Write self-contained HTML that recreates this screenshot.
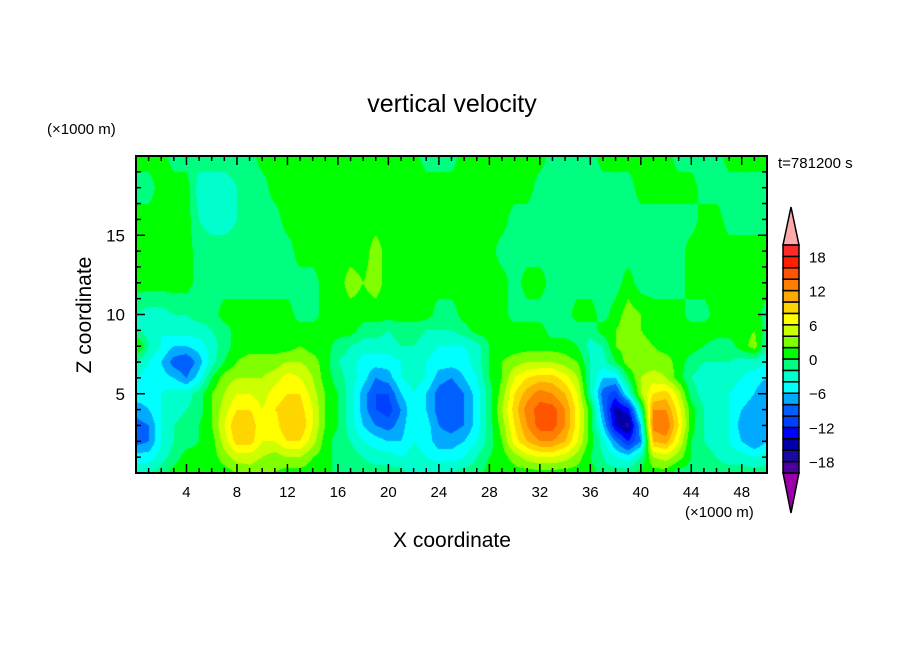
<!DOCTYPE html>
<html><head><meta charset="utf-8">
<style>
body{margin:0;background:#fff;width:904px;height:654px;overflow:hidden;font-family:"Liberation Sans",sans-serif;}
svg text{font-family:"Liberation Sans",sans-serif;fill:#000}
#wrap{position:relative;width:904px;height:654px}
canvas{position:absolute;left:136px;top:156px}
svg{position:absolute;left:0;top:0}
</style></head>
<body>
<div id="wrap">
<canvas id="cv" width="631" height="317"></canvas>
<svg id="sv" width="904" height="654"></svg>
</div>
<script>
const xGrid=[0,1,2,3,4,5,6,7,8,9,10,11,12,13,14,15,16,17,18,19,20,21,22,23,24,25,26,27,28,29,30,31,32,33,34,35,36,37,38,39,40,41,42,43,44,45,46,47,48,49,50];
const zGrid=[0,1,2,3,4,5,6,7,8,9,10,12,14,16,18,20];
const w_z0=[-3,-2,-1,1,1,1,1,1,2,3,2,2,1,1,1,1,-1,-1,-1,-1,-1,-1,-3,-2,-2,-2,-1,-1,1,1,1,1,1,1,1,1,1,-1,-1,-1,1,1,1,-1,-1,-1,-1,-1,-1,-1,-1];
const w_z1=[-5,-5,-3,-1,1,1,1,3,5,5,4,3,4,4,2,1,-1,-1,-2,-3,-3,-4,-3,-4,-5,-5,-4,-2,0,1,3,5,6,6,5,3,0,-2,-4,-5,-2,4,5,3,0,-1,-2,-3,-3,-4,-3];
const w_z2=[-9,-8,-4,-2,-1,0,1,5,9,9,6,6,8,8,5,1,-1,-2,-4,-5,-6,-6,-4,-5,-7,-7,-6,-4,-1,2,7,10,12,12,10,6,1,-3,-8,-12,-8,10,11,6,0,-2,-3,-4,-6,-8,-6];
const w_z3=[-9,-8,-4,-2,-1,0,2,6,10,10,6,7,10,10,6,2,0,-3,-6,-8,-9,-7,-4,-5,-8,-9,-8,-5,-1,3,8,12,15,15,12,7,1,-6,-14,-17,-6,13,14,8,1,-2,-3,-4,-7,-8,-7];
const w_z4=[-7,-6,-4,-3,-2,-1,2,5,8,8,6,8,9,9,6,2,0,-3,-7,-10,-11,-8,-4,-6,-9,-10,-8,-5,-1,4,9,13,15,15,12,7,1,-8,-15,-13,-2,12,12,7,1,-2,-3,-4,-6,-7,-8];
const w_z5=[-5,-5,-4,-3,-3,-1,2,4,6,6,5,7,8,8,5,2,0,-3,-7,-10,-10,-6,-4,-6,-9,-10,-8,-5,-1,3,8,11,13,12,10,6,-2,-9,-11,-4,4,8,9,5,-1,-3,-4,-4,-5,-6,-8];
const w_z6=[-4,-5,-5,-6,-8,-5,0,3,4,4,4,5,7,6,4,1,-1,-3,-5,-8,-7,-4,-3,-4,-7,-8,-6,-4,0,2,6,8,9,9,7,4,-2,-6,-6,0,4,5,4,1,-2,-3,-3,-3,-4,-5,-6];
const w_z7=[-2,-4,-6,-9,-10,-7,-3,0,2,3,3,3,4,4,3,1,-2,-3,-5,-5,-5,-4,-3,-4,-5,-5,-5,-3,0,2,3,4,4,4,3,2,-2,-3,0,3,3,3,3,1,-1,-2,-2,-2,-3,-3,-4];
const w_z8=[3,-2,-4,-6,-6,-5,-3,-1,1,1,1,1,1,2,1,1,-1,-2,-3,-3,-3,-2,-2,-3,-4,-4,-4,-3,0,1,1,1,1,1,1,0,-3,-2,2,3,3,2,1,1,1,0,-1,-1,1,3,-2];
const w_z9=[-2,-3,-4,-3,-3,-3,-2,-1,1,1,1,1,1,1,1,1,1,1,-1,-1,-2,-1,-1,-2,-2,-2,-1,1,1,1,1,1,1,-1,-1,-1,-1,1,2,3,2,1,1,1,1,1,1,1,1,2,-1];
const w_z10=[-2,-3,-3,-2,-2,-1,-1,1,1,1,1,1,1,-1,-1,1,1,1,1,1,1,1,1,1,-1,-1,1,1,1,1,-1,-1,-1,-1,-1,1,1,-1,1,3,2,1,1,1,-1,-1,1,1,1,1,-1];
const w_z12=[1,1,1,1,1,-1,-1,-1,-1,-1,-1,-1,-1,-1,-1,1,1,3,2,3,1,1,1,1,1,1,1,1,1,1,-1,1,1,-1,-1,-1,-1,-1,-1,1,-1,-1,-1,-1,1,1,1,1,1,1,1];
const w_z14=[1,1,1,1,1,-1,-1,-1,-1,-1,-1,-1,-1,1,1,1,1,1,1,3,1,1,1,1,1,1,1,1,1,-1,-1,-1,-1,-1,-1,-1,-1,-1,-1,-1,-1,-1,-1,-1,1,1,1,1,1,1,1];
const w_z16=[1,1,1,1,1,-2,-3,-3,-2,-1,-1,-1,1,1,1,1,1,1,1,1,1,1,1,1,1,1,1,1,1,1,-1,-1,-1,-1,-1,-1,-1,-1,-1,-1,-1,-1,-1,-1,-1,1,1,-1,-1,-1,-1];
const w_z18=[-1,-1,1,1,1,-3,-3,-3,-2,-1,-1,1,1,1,1,1,1,1,1,1,1,1,1,1,1,1,1,1,1,1,1,1,-1,-1,-1,-1,-1,-1,-1,-1,1,1,1,1,1,-1,-1,-1,-1,-1,-1];
const w_z20=[1,1,1,-1,-1,-1,-1,-1,-1,-1,1,1,1,1,1,1,1,1,1,1,1,1,1,-1,-1,-1,1,1,1,1,1,1,1,-1,-1,-1,-1,1,1,1,1,1,1,-1,-1,-1,-1,1,1,1,1];
const wRows=[w_z0,w_z1,w_z2,w_z3,w_z4,w_z5,w_z6,w_z7,w_z8,w_z9,w_z10,w_z12,w_z14,w_z16,w_z18,w_z20];
const levelColors=["#4b0099","#1a0aa0","#0000aa","#0000ff","#0040ff","#0060ff","#00aaff","#00ffff","#00ffcc","#00ff80","#00ff00","#80ff00","#ccff00","#ffff00","#ffd500","#ffaa00","#ff7f00","#ff5500","#ff2000","#ff2a2a"];
const cbLabels=[18,12,6,0,-6,-12,-18];
const xTicks=[4,8,12,16,20,24,28,32,36,40,44,48];
const yTicks=[5,10,15];

const PL=136,PR=767,PT=156,PB=473,X0=0,X1=50,Z0=0,Z1=20;
const sx=x=>PL+(x-X0)/(X1-X0)*(PR-PL);
const sy=z=>PB-(z-Z0)/(Z1-Z0)*(PB-PT);
function hex(h){return [parseInt(h.substr(1,2),16),parseInt(h.substr(3,2),16),parseInt(h.substr(5,2),16)];}
const rgb=levelColors.map(hex);
function val(x,z){
  let i=Math.min(xGrid.length-2,Math.max(0,Math.floor(x)));
  let fx=(x-xGrid[i])/(xGrid[i+1]-xGrid[i]);
  let j=0;while(j<zGrid.length-2&&z>zGrid[j+1])j++;
  let fz=(z-zGrid[j])/(zGrid[j+1]-zGrid[j]);
  fx=Math.max(0,Math.min(1,fx));fz=Math.max(0,Math.min(1,fz));
  const a=wRows[j][i],b=wRows[j][i+1],c=wRows[j+1][i],d=wRows[j+1][i+1];
  return (a*(1-fx)+b*fx)*(1-fz)+(c*(1-fx)+d*fx)*fz;
}
const cv=document.getElementById('cv'),ctx=cv.getContext('2d');
const img=ctx.createImageData(cv.width,cv.height);
for(let py=0;py<cv.height;py++){for(let px=0;px<cv.width;px++){
  const x=X0+(px+0.5)/cv.width*(X1-X0),z=Z1-(py+0.5)/cv.height*(Z1-Z0);
  let v=val(x,z);let k=Math.floor((v+20)/2);k=Math.max(0,Math.min(19,k));
  const o=(py*cv.width+px)*4;img.data[o]=rgb[k][0];img.data[o+1]=rgb[k][1];img.data[o+2]=rgb[k][2];img.data[o+3]=255;}}
ctx.putImageData(img,0,0);

const NS="http://www.w3.org/2000/svg",sv=document.getElementById('sv');
function mk(t,a,txt){const e=document.createElementNS(NS,t);for(const k in a)e.setAttribute(k,a[k]);if(txt!==undefined)e.textContent=txt;sv.appendChild(e);return e;}
let e;
e=mk('rect',{x:PL,y:PT,width:PR-PL,height:PB-PT,fill:'none',stroke:'#000','stroke-width':2});


for(let x=1;x<50;x++){const L=(x%4===0)?9:5;
  e=mk('line',{x1:sx(x),x2:sx(x),y1:PB,y2:PB-L,stroke:'#000','stroke-width':1.5});
  
  
  e=mk('line',{x1:sx(x),x2:sx(x),y1:PT,y2:PT+L,stroke:'#000','stroke-width':1.5});
  
  }
for(let z=1;z<20;z++){const L=(z%5===0)?9:5;
  e=mk('line',{x1:PL,x2:PL+L,y1:sy(z),y2:sy(z),stroke:'#000','stroke-width':1.5});
  
  
  e=mk('line',{x1:PR,x2:PR-L,y1:sy(z),y2:sy(z),stroke:'#000','stroke-width':1.5});
  
  }
xTicks.forEach(t=>{e=mk('text',{x:sx(t),y:497,'font-size':15,'text-anchor':'middle'},String(t));
  
  });
yTicks.forEach(t=>{e=mk('text',{x:125,y:sy(t)+6,'font-size':17,'text-anchor':'end'},String(t));
  
  });
e=mk('text',{x:452,y:112,'font-size':25,'text-anchor':'middle'},'vertical velocity');


e=mk('text',{x:452,y:547,'font-size':21,'text-anchor':'middle'},'X coordinate');


e=mk('text',{x:91,y:315,'font-size':21,'text-anchor':'middle',transform:'rotate(-90 91 315)'},'Z coordinate');


e=mk('text',{x:47,y:134,'font-size':15},'(×1000 m)');


e=mk('text',{x:685,y:517,'font-size':15},'(×1000 m)');


e=mk('text',{x:778,y:168,'font-size':15},'t=781200 s');


const CL=783,CR=799,CT=245,CB=473,bh=(CB-CT)/levelColors.length;
const cbY=v=>CB-(v+20)/40*(CB-CT);
e=mk('polygon',{points:`${CL},${CT} ${CR},${CT} ${(CL+CR)/2},207`,fill:'#ffaaaa',stroke:'#000','stroke-width':1.5});


e=mk('polygon',{points:`${CL},${CB} ${CR},${CB} ${(CL+CR)/2},513`,fill:'#9900aa',stroke:'#000','stroke-width':1.5});


levelColors.forEach((c,k)=>{e=mk('rect',{x:CL,y:CB-(k+1)*bh,width:CR-CL,height:bh,fill:c,stroke:'#000','stroke-width':1.5});
  
  });
cbLabels.forEach(v=>{e=mk('text',{x:809,y:cbY(v)+6,'font-size':15},String(v).replace('-','−'));
  
  });
</script>
</body></html>
